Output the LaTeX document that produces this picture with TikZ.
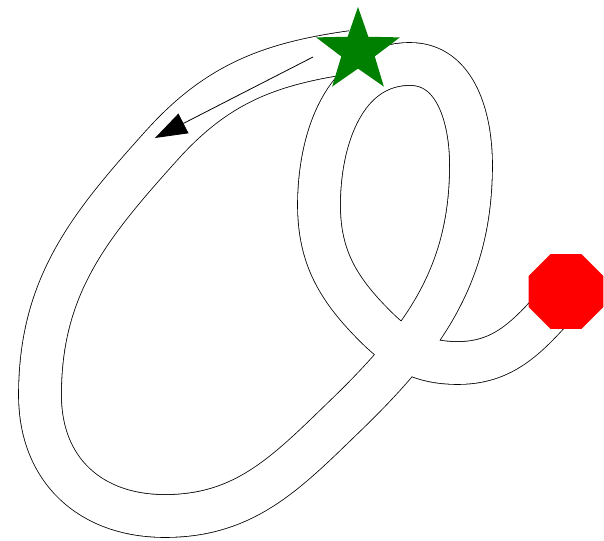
\documentclass[tikz,border=0pt]{standalone}
\usepackage{xcolor}
\usepackage{tikz}
\usetikzlibrary{arrows.meta,shapes.geometric}
\definecolor{starc}{HTML}{008000}
\definecolor{stopc}{HTML}{FF0000}
\tikzset{
  trace/.style={line width=0.8pt,black,double=white,double distance=42pt,line join=round},
  ar/.style={-{Triangle[length=32pt,width=22pt]},line width=0.8pt,black},
  startstar/.style={star,star points=5,star point ratio=2.5,fill=starc,draw=none,minimum size=88pt,inner sep=0pt},
  stopsign/.style={regular polygon,regular polygon sides=8,fill=stopc,draw=none,minimum size=81pt,inner sep=0pt}
}
\begin{document}
\begin{tikzpicture}[x=1pt,y=1pt]
\useasboundingbox (0,0) rectangle (604,540);
% letter outline: big oval, loop, tail
\draw[trace] (352,488) to[out=188,in=48] (162,395)
  to[out=228,in=90] (40,145)
  to[out=270,in=180,looseness=1.1] (165,24)
  to[out=0,in=224] (345,124)
  to[out=44,in=270] (471,375)
  to[out=90,in=0] (410,476)
  to[out=180,in=90] (319,335)
  to[out=270,in=135] (375,214)
  to[out=315,in=180] (458,177)
  to[out=0,in=228] (565,245);
% direction arrow
\coordinate (arrtail) at (313,483);
\coordinate (arrtip) at (155,402);
\draw[ar] (arrtail) -- (arrtip);
% start and stop marks
\node[startstar] (start) at (358,489) {};
\node[stopsign] (stop) at (566,248.5) {};
\end{tikzpicture}
\end{document}
